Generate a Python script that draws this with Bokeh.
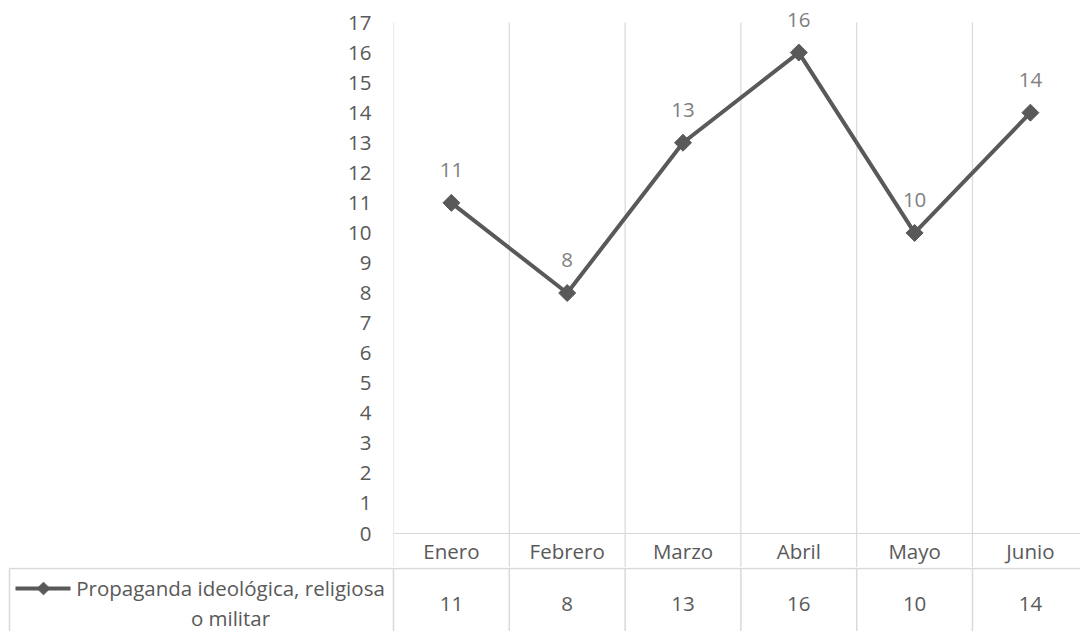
import math
from bokeh.plotting import figure
from bokeh.models import Range1d, FixedTicker, Span
from bokeh.embed import file_html
from bokeh.resources import INLINE
from bokeh.core.properties import value

# ---- data ----
months = ["Enero", "Febrero", "Marzo", "Abril", "Mayo", "Junio"]
counts = [11, 8, 13, 16, 10, 14]
series_label_lines = ["Propaganda ideológica, religiosa", "o militar"]
y_ticks = list(range(0, 18))
y_max = 17

# ---- style ----
FONT = value("Open Sans")
TXT = "#595959"
LBL = "#808080"
GRID = "#d9d9d9"
FS = "20.5px"

BAND = 115.8          # px per category
LEFT = 393            # px from figure left to plot frame
W = 1080
TOP_H = 567
TOP_PAD = 22          # px above the y_max line
PXU = 30.06           # px per y unit

xend = (W - LEFT) / BAND
ystart = y_max - (TOP_H - TOP_PAD) / PXU
yend = y_max + TOP_PAD / PXU

xs = [i + 0.5 for i in range(len(months))]

p = figure(width=W, height=TOP_H, x_range=Range1d(0, xend), y_range=Range1d(ystart, yend),
           output_backend="svg", toolbar_location=None, x_axis_location=None,
           min_border_left=LEFT, min_border_right=0, min_border_top=0,
           min_border_bottom=0)
p.outline_line_color = None
p.background_fill_color = "white"
p.border_fill_color = "white"

ax = p.yaxis[0]
ax.ticker = FixedTicker(ticks=y_ticks)
ax.axis_line_color = None
ax.major_tick_line_color = None
ax.minor_tick_line_color = None
ax.major_tick_in = 0
ax.major_tick_out = 0
ax.major_label_standoff = 22
ax.major_label_text_font = "Open Sans"
ax.major_label_text_font_size = FS
ax.major_label_text_color = TXT

p.ygrid.grid_line_color = None
p.xgrid.grid_line_color = None

# vertical category-boundary gridlines (from the table edge up to the y_max line)
gx = list(range(0, len(months) + 1))
p.segment(x0=gx, y0=[ystart] * len(gx), x1=gx, y1=[y_max] * len(gx),
          line_color=GRID, line_width=1.2)
p.add_layout(Span(location=0, dimension="width", line_color=GRID, line_width=1.2))

# category labels
p.text(x=xs, y=[ystart / 2] * len(months), text=months, text_font=FONT,
       text_font_size=FS, text_color=TXT, text_align="center", text_baseline="middle")

# series
p.line(xs, counts, line_color=TXT, line_width=4)
p.scatter(xs, counts, marker="square", size=12, angle=math.pi / 4,
          fill_color=TXT, line_color=TXT)
p.text(x=xs, y=counts, text=[str(c) for c in counts], y_offset=-33, text_font=FONT,
       text_font_size=FS, text_color=LBL, text_align="center", text_baseline="middle")

# ---- data table ----
BOT_H = 64
xl = -LEFT / BAND
q = figure(width=W, height=BOT_H, x_range=Range1d(xl, xend), y_range=Range1d(-(BOT_H - 1), 1),
           output_backend="svg", toolbar_location=None, x_axis_location=None,
           y_axis_location=None, min_border=0)
q.outline_line_color = None
q.xgrid.grid_line_color = None
q.ygrid.grid_line_color = None
q.background_fill_color = "white"
q.border_fill_color = "white"

left_edge = (9 - LEFT) / BAND
q.segment(x0=[left_edge], y0=[0], x1=[xend], y1=[0], line_color=GRID, line_width=1.5)
vx = [left_edge] + list(range(0, len(months)))
q.segment(x0=vx, y0=[0] * len(vx), x1=vx, y1=[-BOT_H] * len(vx), line_color=GRID, line_width=1.5)

q.text(x=xs, y=[-35] * len(months), text=[str(c) for c in counts], text_font=FONT,
       text_font_size=FS, text_color=TXT, text_align="center", text_baseline="middle")

cx = (230 - LEFT) / BAND
q.text(x=[cx, cx], y=[-19, -49], text=series_label_lines, text_font=FONT,
       text_font_size=FS, text_color=TXT, text_align="center", text_baseline="middle")

k0 = (15 - LEFT) / BAND
k1 = (70 - LEFT) / BAND
km = (43 - LEFT) / BAND
q.line([k0, k1], [-20, -20], line_color=TXT, line_width=4)
q.scatter([km], [-20], marker="square", size=9, angle=math.pi / 4, fill_color=TXT, line_color=TXT)

open("out.html", "w").write(file_html([p, q], INLINE))
